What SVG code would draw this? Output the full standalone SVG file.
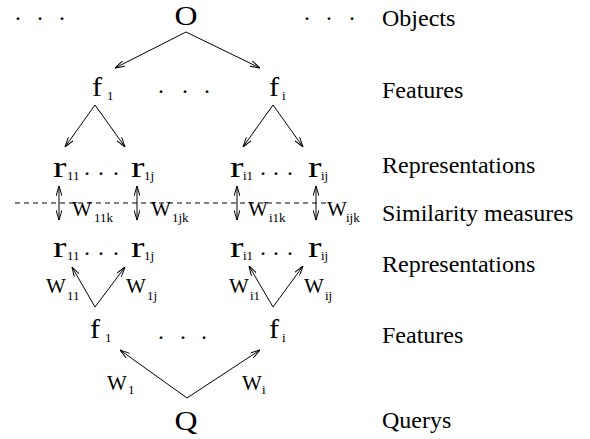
<svg xmlns="http://www.w3.org/2000/svg" width="590" height="439" viewBox="0 0 590 439" font-family="Liberation Serif, serif">
<style>
text{fill:#000}
.big{font-size:27px}
.r{font-size:30px}
.w{font-size:21px}
.s{font-size:13px}
.lab{font-size:24px}
.dot{font-size:24px}
.c{stroke:#000;stroke-width:1;fill:none}
.a{marker-end:url(#ah)}
.d{marker-start:url(#ah);marker-end:url(#ah)}
.dash{stroke:#000;stroke-width:1;stroke-dasharray:5 4;fill:none}
</style>
<defs>
<marker id="ah" viewBox="0 0 10 6" refX="10" refY="3" markerWidth="10" markerHeight="6" markerUnits="userSpaceOnUse" orient="auto-start-reverse">
<path d="M0,0 L10,3 L0,6" fill="none" stroke="#000" stroke-width="1"/>
</marker>
</defs>
<rect width="590" height="439" fill="#fff"/>

<g id="connectors">
<line class="c a" x1="186" y1="32" x2="115" y2="68"/>
<line class="c a" x1="186" y1="32" x2="260" y2="68"/>
<line class="c a" x1="95" y1="105" x2="65" y2="147"/>
<line class="c a" x1="95" y1="105" x2="125" y2="147"/>
<line class="c a" x1="273" y1="105" x2="243" y2="147"/>
<line class="c a" x1="273" y1="105" x2="303" y2="147"/>
<line class="dash" x1="15" y1="203" x2="327" y2="203"/>
<line class="c d" x1="59" y1="186" x2="59" y2="220"/>
<line class="c d" x1="137" y1="186" x2="137" y2="220"/>
<line class="c d" x1="237" y1="186" x2="237" y2="220"/>
<line class="c d" x1="316" y1="186" x2="316" y2="220"/>
<line class="c a" x1="95" y1="307" x2="72" y2="267"/>
<line class="c a" x1="95" y1="307" x2="125" y2="267"/>
<line class="c a" x1="273" y1="307" x2="249" y2="266"/>
<line class="c a" x1="273" y1="307" x2="303" y2="266"/>
<line class="c a" x1="187" y1="398" x2="120" y2="350"/>
<line class="c a" x1="187" y1="398" x2="260" y2="350"/>
<g id="weights">
<text class="w" x="72" y="216">W<tspan class="s" x="94" y="222">11k</tspan></text>
<text class="w" x="151" y="216">W<tspan class="s" x="172" y="222">1jk</tspan></text>
<text class="w" x="248" y="216">W<tspan class="s" x="269" y="222">i1k</tspan></text>
<text class="w" x="327" y="216">W<tspan class="s" x="346" y="222">ijk</tspan></text>
<text class="w" x="46" y="293">W<tspan class="s" x="67" y="300">11</tspan></text>
<text class="w" x="126" y="293">W<tspan class="s" x="147" y="300">1j</tspan></text>
<text class="w" x="229" y="293">W<tspan class="s" x="250" y="300">i1</tspan></text>
<text class="w" x="304" y="293">W<tspan class="s" x="325" y="300">ij</tspan></text>
<text class="w" x="107" y="390">W<tspan class="s" x="128" y="394">1</tspan></text>
<text class="w" x="242" y="390">W<tspan class="s" x="262" y="394">i</tspan></text>
</g>
</g>

<g id="dots">
<text class="dot" x="15 37 59" y="20">...</text>
<text class="dot" x="304 326 349" y="20">...</text>
<text class="dot" x="158 182 204" y="93">...</text>
<text class="dot" x="84 98 113" y="175">...</text>
<text class="dot" x="260 273 287" y="175">...</text>
<text class="dot" x="84 98 113" y="255">...</text>
<text class="dot" x="260 273 287" y="255">...</text>
<text class="dot" x="158 180 201" y="339">...</text>
</g>

<g id="node-O"><text class="big" transform="translate(186 25) scale(1.18 1)" text-anchor="middle">O</text></g>
<g id="node-f1-top"><text class="big" transform="translate(92 96) scale(1.12 1)">f</text><text class="s" x="107" y="100">1</text></g>
<g id="node-fi-top"><text class="big" transform="translate(269 96) scale(1.12 1)">f</text><text class="s" x="282" y="100">i</text></g>
<g id="node-r11-top"><text class="r" transform="translate(53 177) scale(1.35 1)">r</text><text class="s" x="67" y="180">11</text></g>
<g id="node-r1j-top"><text class="r" transform="translate(131 177) scale(1.35 1)">r</text><text class="s" x="144" y="180">1j</text></g>
<g id="node-ri1-top"><text class="r" transform="translate(230 177) scale(1.35 1)">r</text><text class="s" x="243" y="180">i1</text></g>
<g id="node-rij-top"><text class="r" transform="translate(308 177) scale(1.35 1)">r</text><text class="s" x="321" y="180">ij</text></g>
<g id="node-r11-bot"><text class="r" transform="translate(53 257) scale(1.35 1)">r</text><text class="s" x="67" y="260">11</text></g>
<g id="node-r1j-bot"><text class="r" transform="translate(131 257) scale(1.35 1)">r</text><text class="s" x="144" y="260">1j</text></g>
<g id="node-ri1-bot"><text class="r" transform="translate(230 257) scale(1.35 1)">r</text><text class="s" x="243" y="260">i1</text></g>
<g id="node-rij-bot"><text class="r" transform="translate(308 257) scale(1.35 1)">r</text><text class="s" x="321" y="260">ij</text></g>
<g id="node-f1-bot"><text class="big" transform="translate(90 338) scale(1.12 1)">f</text><text class="s" x="105" y="342">1</text></g>
<g id="node-fi-bot"><text class="big" transform="translate(269 338) scale(1.12 1)">f</text><text class="s" x="282" y="342">i</text></g>
<g id="node-Q"><text class="big" transform="translate(186 430) scale(1.18 1)" text-anchor="middle">Q</text></g>

<g id="labels">
<text class="lab" x="382" y="26">Objects</text>
<text class="lab" x="382" y="98">Features</text>
<text class="lab" x="382" y="173">Representations</text>
<text class="lab" x="382" y="221">Similarity measures</text>
<text class="lab" x="382" y="272">Representations</text>
<text class="lab" x="382" y="343">Features</text>
<text class="lab" x="382" y="428">Querys</text>
</g>
</svg>
